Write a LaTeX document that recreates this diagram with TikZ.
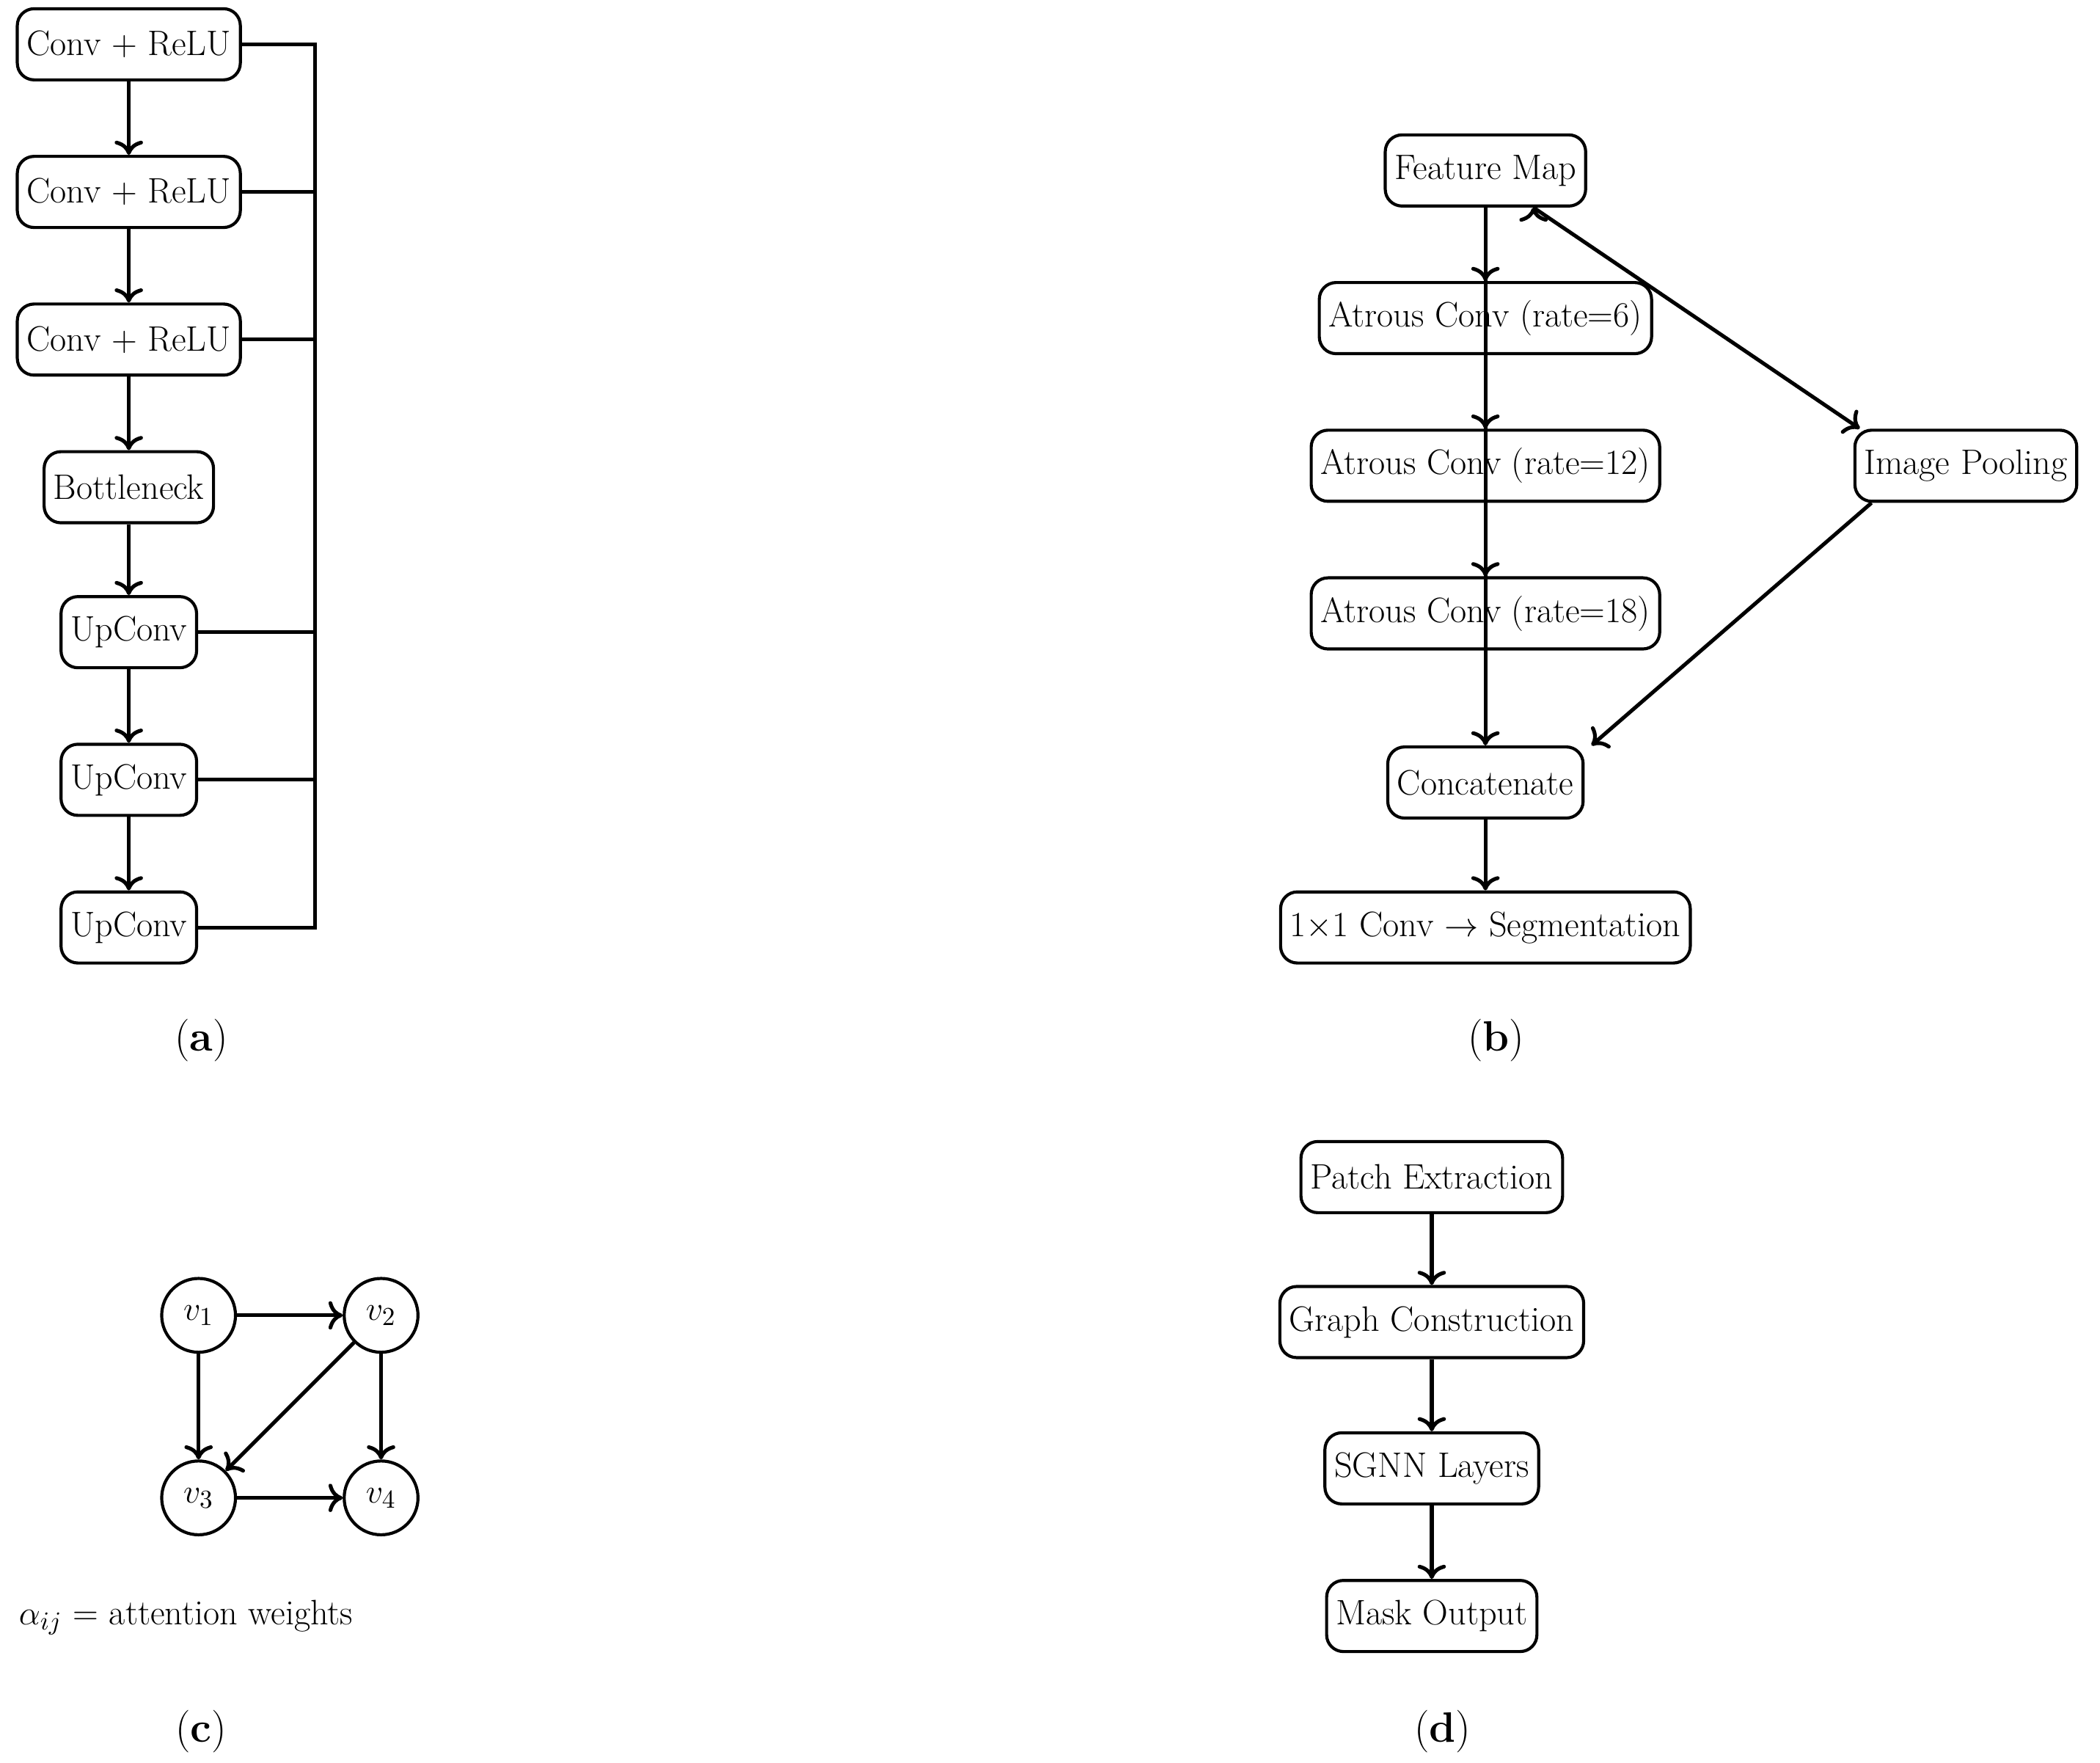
\documentclass[tikz,border=0pt]{standalone}
\usetikzlibrary{arrows.meta}
\begin{document}
\begin{tikzpicture}[x=0.02cm,y=-0.02cm,
  box/.style={draw,line width=1.3pt,rounded corners=0.25cm,minimum height=1.06cm,inner xsep=0.14cm,font=\fontsize{15}{18}\selectfont},
  cir/.style={draw,circle,line width=1.3pt,minimum size=1.1cm,inner sep=0pt,font=\fontsize{15}{18}\selectfont},
  ln/.style={line width=1.6pt},
  ar/.style={line width=1.6pt,-{To[length=6pt,width=12pt]}},
  lab/.style={font=\fontsize{18}{21}\selectfont}]
\useasboundingbox (0,0) rectangle (1565,1313);
% (a)
\node[box] (a1) at (96,33) {Conv + ReLU};
\node[box] (a2) at (96,143) {Conv + ReLU};
\node[box] (a3) at (96,253) {Conv + ReLU};
\node[box] (a4) at (96,363) {Bottleneck};
\node[box] (a5) at (96,471) {UpConv};
\node[box] (a6) at (96,581) {UpConv};
\node[box] (a7) at (96,691) {UpConv};
\foreach \i/\j in {a1/a2,a2/a3,a3/a4,a4/a5,a5/a6,a6/a7} \draw[ar] (\i) -- (\j);
\coordinate (bt) at (235,33); \coordinate (bb) at (235,691);
\draw[ln] (a1.east) -- (bt) -- (bb) -- (a7.east);
\foreach \n in {a2,a3,a5,a6} \draw[ln] (\n.east) -- (bt|-\n.east);
\node[lab] (la) at (150,775) {(\textbf{a})};
% (b)
\node[box] (fm) at (1107,127) {Feature Map};
\node[box] (b6) at (1107,237) {Atrous Conv (rate=6)};
\node[box] (b12) at (1107,347) {Atrous Conv (rate=12)};
\node[box] (b18) at (1107,457) {Atrous Conv (rate=18)};
\node[box] (ip) at (1465,347) {Image Pooling};
\node[box] (cc) at (1107,583) {Concatenate};
\node[box] (oc) at (1107,691) {1$\times$1 Conv $\rightarrow$ Segmentation};
\draw[ar] (fm) -- (b6.north);
\draw[ar] (fm.south) -- (b12.north);
\draw[ar] (fm.south) -- (b18.north);
\draw[ar] (b6.south) -- (cc.north);
\draw[ar] (fm.south east) ++(-40,0) coordinate (fs) ;
\draw[ar] (fs) -- ([xshift=-45]ip.north);
\draw[ar] ([xshift=-40]ip.south) -- ([xshift=45]cc.north);
\draw[ar] (cc) -- (oc);
\node[lab] (lb) at (1115,775) {(\textbf{b})};
% (c)
\node[cir] (v1) at (148,980) {$v_1$};
\node[cir] (v2) at (284,980) {$v_2$};
\node[cir] (v3) at (148,1116) {$v_3$};
\node[cir] (v4) at (284,1116) {$v_4$};
\draw[ar] (v1) -- (v2);
\draw[ar] (v1) -- (v3);
\draw[ar] (v2) -- (v3);
\draw[ar] (v2) -- (v4);
\draw[ar] (v3) -- (v4);
\node[anchor=west,font=\fontsize{15}{18}\selectfont] (al) at (8,1205) {$\alpha_{ij}$ = attention weights};
\node[lab] (lc) at (150,1290) {(\textbf{c})};
% (d)
\node[box] (d1) at (1067,877) {Patch Extraction};
\node[box] (d2) at (1067,985) {Graph Construction};
\node[box] (d3) at (1067,1094) {SGNN Layers};
\node[box] (d4) at (1067,1204) {Mask Output};
\draw[ar] (d1) -- (d2);
\draw[ar] (d2) -- (d3);
\draw[ar] (d3) -- (d4);
\node[lab] (ld) at (1075,1290) {(\textbf{d})};
\end{tikzpicture}
\end{document}
